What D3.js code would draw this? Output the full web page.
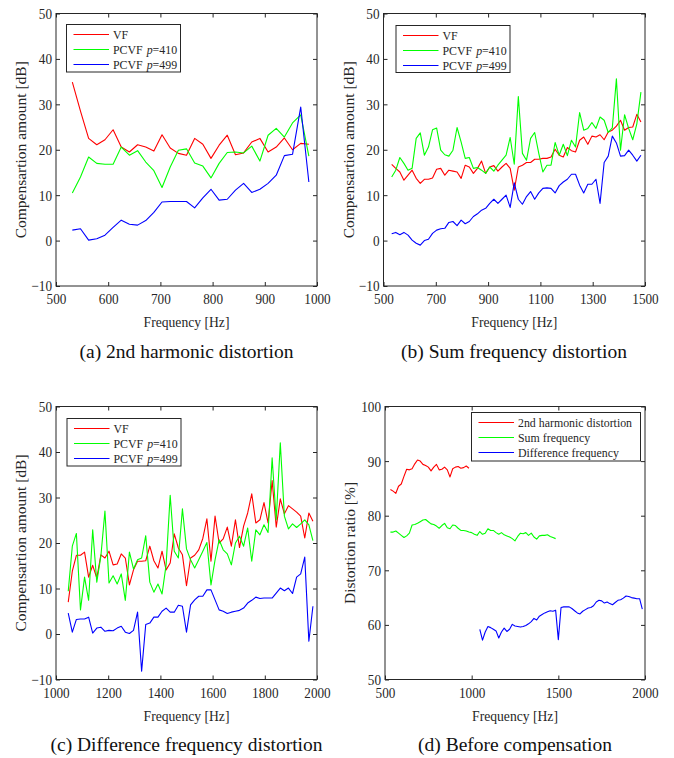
<!DOCTYPE html>
<html><head><meta charset="utf-8">
<script src="https://cdn.jsdelivr.net/npm/d3@7"></script>
<style>
html,body{margin:0;padding:0;background:#fff;}
svg{display:block;font-family:"Liberation Serif","Times New Roman",Times,serif;}
</style></head><body>
<svg id="fig" width="674" height="758"></svg>
<script>
// ---------------- data ----------------
const freqHarm = [531.3,546.9,562.5,578.1,593.8,609.4,625,640.6,656.3,671.9,687.5,703.1,718.8,734.4,750,765.6,781.3,796.9,812.5,828.1,843.8,859.4,875,890.6,906.3,921.9,937.5,953.1,968.8,984.4];
const freqSum = [531.3,546.9,562.5,578.1,593.8,609.4,625,640.6,656.3,671.9,687.5,703.1,718.8,734.4,750,765.6,781.3,796.9,812.5,828.1,843.8,859.4,875,890.6,906.3,921.9,937.5,953.1,968.8,984.4,
  1000,1015.6,1031.3,1046.9,1062.5,1078.1,1093.8,1109.4,1125,1140.6,1156.3,1171.9,1187.5,1203.1,1218.8,1234.4,1250,1265.6,1281.3,1296.9,1312.5,1328.1,1343.8,1359.4,1375,1390.6,1406.3,1421.9,1437.5,1453.1,1468.8,1484.4];
const freqDiff = [1046.9,1062.5,1078.1,1093.8,1109.4,1125,1140.6,1156.3,1171.9,1187.5,1203.1,1218.8,1234.4,1250,1265.6,1281.3,1296.9,1312.5,1328.1,1343.8,1359.4,1375,1390.6,1406.3,1421.9,1437.5,1453.1,1468.8,1484.4,
  1500,1515.6,1531.3,1546.9,1562.5,1578.1,1593.8,1609.4,1625,1640.6,1656.3,1671.9,1687.5,1703.1,1718.8,1734.4,1750,1765.6,1781.3,1796.9,1812.5,1828.1,1843.8,1859.4,1875,1890.6,1906.3,1921.9,1937.5,1953.1,1968.8,1984.4];

// (a) 2nd harmonic distortion: compensation amount [dB]
const harmVF   = [34.9,28.5,22.5,21.1,22.2,24.4,20.6,19.5,21.1,20.6,19.7,23.3,20.4,19.2,18.8,22.5,21.2,18.1,21.0,23.2,18.9,19.3,21.7,22.5,19.5,20.6,22.6,20.0,21.4,21.2];
const harmP410 = [10.5,14.0,18.4,17.0,16.8,16.8,20.6,18.8,19.8,17.3,15.4,11.7,16.2,19.9,20.2,17.1,16.4,13.8,17.0,19.4,19.5,19.3,20.8,17.5,23.2,24.7,22.8,25.9,27.7,18.6];
const harmP499 = [2.3,2.6,0.1,0.4,1.2,2.9,4.5,3.6,3.4,4.4,6.2,8.5,8.6,8.6,8.6,7.2,9.4,11.3,8.9,9.1,11.1,12.6,10.6,11.3,12.6,14.4,18.7,19.0,29.4,12.9];

// (b) sum frequency distortion
const sumVF   = [16.8,15.9,15.1,13.3,14.4,15.5,13.7,12.6,13.5,13.5,13.8,15.7,15.9,14.4,15.5,15.3,15.1,13.7,16.6,16.2,14.8,15.9,17.5,14.8,16.2,16.5,15.3,16.2,17.0,15.9,11.1,16.2,16.6,17.2,17.2,17.9,17.9,18.1,18.1,18.4,20.1,18.8,18.4,20.5,19.8,19.5,22.1,22.8,21.2,23.0,22.8,23.3,22.2,23.9,24.3,25.2,26.5,24.3,24.9,25.0,27.8,26.1];
const sumP410 = [14.0,15.5,18.3,17.0,15.5,15.9,22.5,23.7,18.8,20.6,24.4,24.8,19.9,18.9,18.6,19.9,24.9,21.7,18.1,18.3,15.9,16.1,15.5,14.8,16.2,15.3,16.6,17.7,18.8,22.7,16.8,31.7,19.2,17.7,22.5,23.8,19.2,15.1,16.6,16.6,21.6,18.8,21.2,18.7,22.1,20.6,28.2,24.3,24.7,26.0,24.7,27.2,26.5,23.8,24.8,35.6,19.9,27.7,24.7,22.2,25.7,32.7];
const sumP499 = [1.5,1.8,1.3,1.8,1.2,0.1,-0.6,-1.0,0.0,0.3,1.6,2.3,2.6,2.7,4.0,4.2,3.3,4.5,3.7,4.2,5.3,5.9,6.7,7.1,8.2,9.1,8.2,9.1,10.0,7.3,12.7,9.1,8.0,9.7,10.8,9.1,10.5,11.5,11.6,11.5,10.5,12.1,12.9,13.5,14.6,14.6,12.2,10.5,12.4,12.4,13.5,8.2,17.2,18.6,23.0,21.5,18.6,18.7,19.9,18.8,17.5,18.8];

// (c) difference frequency distortion
const diffVF   = [7.0,13.8,17.3,17.3,18.0,12.5,15.1,12.3,17.4,16.7,18.2,15.2,15.4,17.6,16.7,10.8,14.1,16.0,16.0,16.1,19.3,16.1,14.5,18.2,14.1,15.6,22.0,18.9,17.4,10.6,16.7,17.3,18.5,21.0,25.3,16.0,25.9,20.0,20.9,23.5,19.3,25.1,19.0,23.7,26.6,30.8,24.4,25.1,28.9,24.4,33.7,23.5,29.7,26.4,28.2,27.5,26.8,25.9,21.1,26.6,24.8];
const diffP410 = [9.4,19.3,22.1,5.3,12.5,7.4,22.9,11.4,17.1,27.0,11.2,12.8,11.0,13.2,7.4,18.0,14.3,16.3,16.7,21.6,11.4,9.2,11.0,8.8,15.2,30.5,18.2,16.7,27.5,18.7,16.3,14.5,16.3,18.2,20.1,10.8,16.3,20.7,18.5,17.6,15.2,20.0,21.5,19.3,23.3,16.0,22.9,21.8,24.0,22.3,38.7,25.1,42.0,25.9,23.1,24.2,23.4,24.2,25.1,24.0,20.5];
const diffP499 = [4.6,0.4,3.2,3.3,3.3,3.7,0.2,1.3,1.5,0.6,0.8,0.7,1.3,1.7,0.4,0.1,0.8,4.8,-8.2,2.1,2.4,3.7,3.7,5.0,5.7,4.8,4.8,6.3,6.1,0.4,6.4,7.5,8.3,8.3,9.7,9.7,7.5,5.3,5.0,4.5,4.8,5.0,5.2,5.7,6.8,7.4,8.1,7.8,7.9,7.9,7.9,9.0,10.1,9.5,10.1,8.9,12.5,13.2,16.9,-1.6,6.1];

// (d) distortion ratio before compensation [%]
const ratioHarm = [84.8,84.5,84.1,85.4,85.8,87.2,88.5,88.4,88.6,89.5,90.2,90.0,89.4,89.2,88.9,88.2,88.9,89.4,88.4,88.5,88.9,88.4,87.1,88.6,88.9,89.0,88.7,88.8,89.1,88.7];
const ratioSum  = [77.0,77.0,77.2,76.8,76.4,76.0,76.3,76.8,78.3,78.4,78.6,78.9,79.2,79.3,78.9,78.5,78.4,78.1,77.7,78.2,78.6,77.8,77.6,78.3,78.2,77.7,77.3,77.3,77.2,77.0,76.9,76.6,76.4,77.1,76.6,76.8,77.6,77.3,77.3,76.9,76.6,76.9,76.5,76.3,76.1,75.8,75.4,76.2,76.8,76.7,76.9,76.4,76.8,76.1,75.7,76.3,76.4,76.4,76.5,76.2,76.0,75.8];
const ratioDiff = [59.2,57.2,58.7,59.7,59.5,59.2,58.9,57.6,58.7,59.4,58.8,59.2,60.1,59.8,59.7,59.6,59.7,59.9,60.2,60.6,61.2,60.9,61.6,61.9,62.2,62.4,62.6,62.5,62.7,57.3,63.2,63.3,63.3,63.3,63.0,62.6,62.2,62.0,62.5,62.8,63.1,63.2,63.5,64.2,64.5,64.4,64.0,64.2,63.9,63.7,64.1,64.5,64.6,64.9,65.3,65.2,65.0,64.9,64.8,64.8,62.9];

// ticks and labels
const compTicks  = [-10,0,10,20,30,40,50];
const ratioTicks = [50,60,70,80,90,100];
const ticksHarm  = [500,600,700,800,900,1000];
const ticksSum   = [500,700,900,1100,1300,1500];
const ticksDiff  = [1000,1200,1400,1600,1800,2000];
const ticksRatio = [500,1000,1500,2000];
const compLegend  = [["VF",""],["PCVF","410"],["PCVF","499"]];
const ratioLegend = ["2nd harmonic distortion","Sum frequency","Difference frequency"];
const captions = ["(a) 2nd harmonic distortion","(b) Sum frequency distortion","(c) Difference frequency distortion","(d) Before compensation"];
const xLabel = "Frequency [Hz]";
const compYLabel = "Compensartion amount [dB]";
const ratioYLabel = "Distortion ratio [%]";

// ---------------- drawing ----------------
const RED="#ff0000", GREEN="#00ff00", BLUE="#0000ff", INK="#262626";
const SX = 0.88;          // horizontal squeeze of figure text
const TICK_FS = 15, LABEL_FS = 15.5, LEG_FS = 13.5, CAP_FS = 19.5;

const svg = d3.select("#fig");
svg.append("rect").attr("width",674).attr("height",758).attr("fill","#fff");

const panels = [
  {left:56, right:317, top:13.5, bottom:286, xd:[500,1000], yd:[-10,50], xt:ticksHarm, yt:compTicks,
   ylab:compYLabel, cap:captions[0], capX:186.5, capY:358,
   series:[{x:freqHarm,y:harmVF,c:RED},{x:freqHarm,y:harmP410,c:GREEN},{x:freqHarm,y:harmP499,c:BLUE}],
   leg:{x:66.5,y:24.5,w:114,h:47.5,type:"comp"}},
  {left:383.5, right:645, top:13.5, bottom:286, xd:[500,1500], yd:[-10,50], xt:ticksSum, yt:compTicks,
   ylab:compYLabel, cap:captions[1], capX:514, capY:358,
   series:[{x:freqSum,y:sumVF,c:RED},{x:freqSum,y:sumP410,c:GREEN},{x:freqSum,y:sumP499,c:BLUE}],
   leg:{x:396,y:25.5,w:114,h:47,type:"comp"}},
  {left:56, right:317, top:406.5, bottom:679.5, xd:[1000,2000], yd:[-10,50], xt:ticksDiff, yt:compTicks,
   ylab:compYLabel, cap:captions[2], capX:186.5, capY:751,
   series:[{x:freqDiff,y:diffVF,c:RED},{x:freqDiff,y:diffP410,c:GREEN},{x:freqDiff,y:diffP499,c:BLUE}],
   leg:{x:67,y:418.5,w:114,h:47.5,type:"comp"}},
  {left:385, right:645, top:406.5, bottom:679.5, xd:[500,2000], yd:[50,100], xt:ticksRatio, yt:ratioTicks,
   ylab:ratioYLabel, cap:captions[3], capX:515, capY:751,
   series:[{x:freqHarm,y:ratioHarm,c:RED},{x:freqSum,y:ratioSum,c:GREEN},{x:freqDiff,y:ratioDiff,c:BLUE}],
   leg:{x:471.5,y:412.5,w:169,h:48.5,type:"ratio"}}
];

panels.forEach(p => {
  const g = svg.append("g");
  const x = d3.scaleLinear().domain(p.xd).range([p.left, p.right]);
  const y = d3.scaleLinear().domain(p.yd).range([p.bottom, p.top]);

  // axes (MATLAB box style, ticks inward on all sides)
  const bx = g.append("g").attr("transform",`translate(0,${p.bottom})`)
    .call(d3.axisBottom(x).tickValues(p.xt).tickSize(-4).tickSizeOuter(0).tickFormat(d3.format("d")));
  bx.selectAll("text").attr("y",18.5).attr("dy",0).attr("transform",`scale(${SX},1)`)
    .attr("font-size",TICK_FS).attr("font-family","Liberation Serif").attr("fill",INK);
  const ly = g.append("g").attr("transform",`translate(${p.left},0)`)
    .call(d3.axisLeft(y).tickValues(p.yt).tickSize(-4).tickSizeOuter(0).tickFormat(d3.format("d")));
  ly.selectAll("text").attr("x",-4/SX).attr("dy","0.33em").attr("transform",`scale(${SX},1)`)
    .attr("font-size",TICK_FS).attr("font-family","Liberation Serif").attr("fill",INK);
  const tx = g.append("g").attr("transform",`translate(0,${p.top})`)
    .call(d3.axisTop(x).tickValues(p.xt).tickSize(-4).tickSizeOuter(0).tickFormat(""));
  const ry = g.append("g").attr("transform",`translate(${p.right},0)`)
    .call(d3.axisRight(y).tickValues(p.yt).tickSize(-4).tickSizeOuter(0).tickFormat(""));
  [bx,ly,tx,ry].forEach(a => { a.select(".domain").remove(); a.selectAll("line").attr("stroke",INK); });
  g.append("rect").attr("x",p.left).attr("y",p.top).attr("width",p.right-p.left).attr("height",p.bottom-p.top)
    .attr("fill","none").attr("stroke",INK).attr("stroke-width",1);

  // data lines
  const line = d3.line().x(d => x(d[0])).y(d => y(d[1]));
  p.series.forEach(s => {
    g.append("path").datum(s.x.map((f,i) => [f, s.y[i]]))
      .attr("fill","none").attr("stroke",s.c).attr("stroke-width",1.1).attr("stroke-linejoin","round")
      .attr("d", line);
  });

  // axis labels
  const cx = (p.left + p.right)/2, cy = (p.top + p.bottom)/2;
  g.append("text").attr("transform",`translate(${cx},${p.bottom+41}) scale(${SX},1)`)
    .attr("text-anchor","middle").attr("font-size",LABEL_FS).attr("fill",INK).text(xLabel);
  g.append("text").attr("transform",`translate(${p.left-30},${cy}) rotate(-90) scale(1,${SX})`)
    .attr("text-anchor","middle").attr("font-size",LABEL_FS).attr("fill",INK).text(p.ylab);

  // legend
  const L = p.leg;
  const lg = g.append("g").attr("transform",`translate(${L.x},${L.y})`);
  lg.append("rect").attr("width",L.w).attr("height",L.h).attr("fill","#fff").attr("stroke",INK).attr("stroke-width",1);
  const cols = [RED,GREEN,BLUE];
  cols.forEach((c,i) => {
    const ry0 = 10 + i*15;
    lg.append("line").attr("x1",7).attr("x2",42.5).attr("y1",ry0).attr("y2",ry0).attr("stroke",c).attr("stroke-width",1.1);
    const t = lg.append("text").attr("transform",`translate(46.5,${ry0+4.5}) scale(${SX},1)`)
      .attr("font-size",LEG_FS).attr("fill",INK);
    if (L.type === "comp") {
      const [name,pv] = compLegend[i];
      t.append("tspan").text(name);
      if (pv) {
        t.append("tspan").attr("dx",4.5).attr("font-style","italic").text("p");
        t.append("tspan").text("=" + pv);
      }
    } else {
      t.text(ratioLegend[i]);
    }
  });

  // caption
  svg.append("text").attr("x",p.capX).attr("y",p.capY).attr("text-anchor","middle")
    .attr("font-size",CAP_FS).attr("fill","#111").text(p.cap);
});
</script>
</body></html>
